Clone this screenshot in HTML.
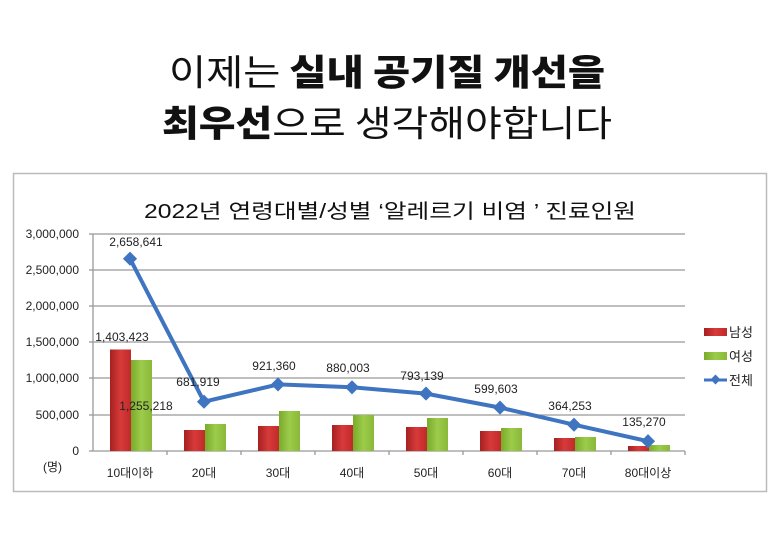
<!DOCTYPE html>
<html><head><meta charset="utf-8"><style>
html,body{margin:0;padding:0;background:#fff;}
svg{display:block;font-family:"Liberation Sans","Noto Sans CJK KR",sans-serif;}
</style></head><body>
<svg width="780" height="560" viewBox="0 0 780 560" xmlns="http://www.w3.org/2000/svg">
<rect width="780" height="560" fill="#fff"/>
<text x="387" y="85" text-anchor="middle" font-size="36" fill="#111" textLength="436" lengthAdjust="spacingAndGlyphs" font-family="Noto Sans CJK KR, sans-serif">이제는 <tspan font-weight="900">실내 공기질 개선을</tspan></text>
<text x="387" y="136" text-anchor="middle" font-size="36" fill="#111" textLength="450" lengthAdjust="spacingAndGlyphs" font-family="Noto Sans CJK KR, sans-serif"><tspan font-weight="900">최우선</tspan>으로 생각해야합니다</text>
<rect x="13.5" y="173.5" width="753" height="318" fill="#fff" stroke="#bbb" stroke-width="1.5"/>
<text x="390" y="218" text-anchor="middle" font-size="20" fill="#111" textLength="492" lengthAdjust="spacingAndGlyphs">2022년 연령대별/성별 ‘알레르기 비염 ’ 진료인원</text>
<g stroke="#999" stroke-width="1.3">
<line x1="93" y1="234" x2="685" y2="234"/><line x1="93" y1="270" x2="685" y2="270"/>
<line x1="93" y1="306" x2="685" y2="306"/><line x1="93" y1="342" x2="685" y2="342"/>
<line x1="93" y1="378" x2="685" y2="378"/><line x1="93" y1="415" x2="685" y2="415"/>
<line x1="93" y1="451" x2="685" y2="451"/>
<line x1="93" y1="234" x2="93" y2="451"/>
<line x1="89" y1="234" x2="93" y2="234"/><line x1="89" y1="270" x2="93" y2="270"/><line x1="89" y1="306" x2="93" y2="306"/><line x1="89" y1="342" x2="93" y2="342"/><line x1="89" y1="378" x2="93" y2="378"/><line x1="89" y1="415" x2="93" y2="415"/><line x1="89" y1="451" x2="93" y2="451"/>
<line x1="167" y1="451" x2="167" y2="455"/><line x1="241" y1="451" x2="241" y2="455"/><line x1="315" y1="451" x2="315" y2="455"/><line x1="389" y1="451" x2="389" y2="455"/><line x1="463" y1="451" x2="463" y2="455"/><line x1="537" y1="451" x2="537" y2="455"/><line x1="611" y1="451" x2="611" y2="455"/><line x1="685" y1="451" x2="685" y2="455"/>
</g>
<g font-size="12" fill="#222" text-anchor="end">
<text x="79" y="238">3,000,000</text><text x="79" y="274">2,500,000</text><text x="79" y="310">2,000,000</text><text x="79" y="346">1,500,000</text><text x="79" y="382">1,000,000</text><text x="79" y="419">500,000</text><text x="79" y="455">0</text>
</g>
<text x="43" y="471" font-size="12" fill="#222">(명)</text>
<defs>
<linearGradient id="r" x1="0" x2="1"><stop offset="0" stop-color="#a52020"/><stop offset="0.5" stop-color="#d83a3a"/><stop offset="1" stop-color="#c02a2a"/></linearGradient>
<linearGradient id="g" x1="0" x2="1"><stop offset="0" stop-color="#7aaa2a"/><stop offset="0.5" stop-color="#9ccc4a"/><stop offset="1" stop-color="#8ab83a"/></linearGradient>
</defs>
<g>
<rect x="110" y="349.5" width="21" height="101.5" fill="url(#r)"/><rect x="131" y="360" width="21" height="91" fill="url(#g)"/>
<rect x="184" y="430" width="21" height="21" fill="url(#r)"/><rect x="205" y="424" width="21" height="27" fill="url(#g)"/>
<rect x="258" y="426" width="21" height="25" fill="url(#r)"/><rect x="279" y="411" width="21" height="40" fill="url(#g)"/>
<rect x="332" y="425" width="21" height="26" fill="url(#r)"/><rect x="353" y="415" width="21" height="36" fill="url(#g)"/>
<rect x="406" y="427" width="21" height="24" fill="url(#r)"/><rect x="427" y="418" width="21" height="33" fill="url(#g)"/>
<rect x="480" y="431" width="21" height="20" fill="url(#r)"/><rect x="501" y="428" width="21" height="23" fill="url(#g)"/>
<rect x="554" y="438" width="21" height="13" fill="url(#r)"/><rect x="575" y="437" width="21" height="14" fill="url(#g)"/>
<rect x="628" y="446" width="21" height="5" fill="url(#r)"/><rect x="649" y="445" width="21" height="6" fill="url(#g)"/>
</g>
<polyline points="130,258.7 204,401.7 278,384.4 352,387.3 426,393.6 500,407.6 574,424.7 648,441.2" fill="none" stroke="#3f74c0" stroke-width="4" stroke-linejoin="round"/>
<g fill="#3f74c0">
<rect x="125" y="253.7" width="10" height="10" transform="rotate(45 130 258.7)"/>
<rect x="199" y="396.7" width="10" height="10" transform="rotate(45 204 401.7)"/>
<rect x="273" y="379.4" width="10" height="10" transform="rotate(45 278 384.4)"/>
<rect x="347" y="382.3" width="10" height="10" transform="rotate(45 352 387.3)"/>
<rect x="421" y="388.6" width="10" height="10" transform="rotate(45 426 393.6)"/>
<rect x="495" y="402.6" width="10" height="10" transform="rotate(45 500 407.6)"/>
<rect x="569" y="419.7" width="10" height="10" transform="rotate(45 574 424.7)"/>
<rect x="643" y="436.2" width="10" height="10" transform="rotate(45 648 441.2)"/>
</g>
<g font-size="12" fill="#222" text-anchor="middle">
<text x="136" y="246">2,658,641</text>
<text x="122" y="341">1,403,423</text>
<text x="146" y="410">1,255,218</text>
<text x="198" y="386">681,919</text>
<text x="274" y="370">921,360</text>
<text x="348" y="372">880,003</text>
<text x="422" y="380">793,139</text>
<text x="496" y="393">599,603</text>
<text x="570" y="410">364,253</text>
<text x="644" y="426">135,270</text>
</g>
<g font-size="12" fill="#222" text-anchor="middle">
<text x="130" y="477">10대이하</text><text x="204" y="477">20대</text><text x="278" y="477">30대</text><text x="352" y="477">40대</text><text x="426" y="477">50대</text><text x="500" y="477">60대</text><text x="574" y="477">70대</text><text x="648" y="477">80대이상</text>
</g>
<rect x="704" y="328" width="23" height="8" fill="url(#r)"/>
<rect x="704" y="352" width="23" height="8" fill="url(#g)"/>
<line x1="704" y1="380" x2="727" y2="380" stroke="#3f74c0" stroke-width="3"/>
<rect x="712" y="376" width="7" height="7" fill="#3f74c0" transform="rotate(45 715.5 379.5)"/>
<g font-size="13" fill="#222">
<text x="729" y="337">남성</text><text x="729" y="361">여성</text><text x="729" y="385">전체</text>
</g>
</svg>
</body></html>
